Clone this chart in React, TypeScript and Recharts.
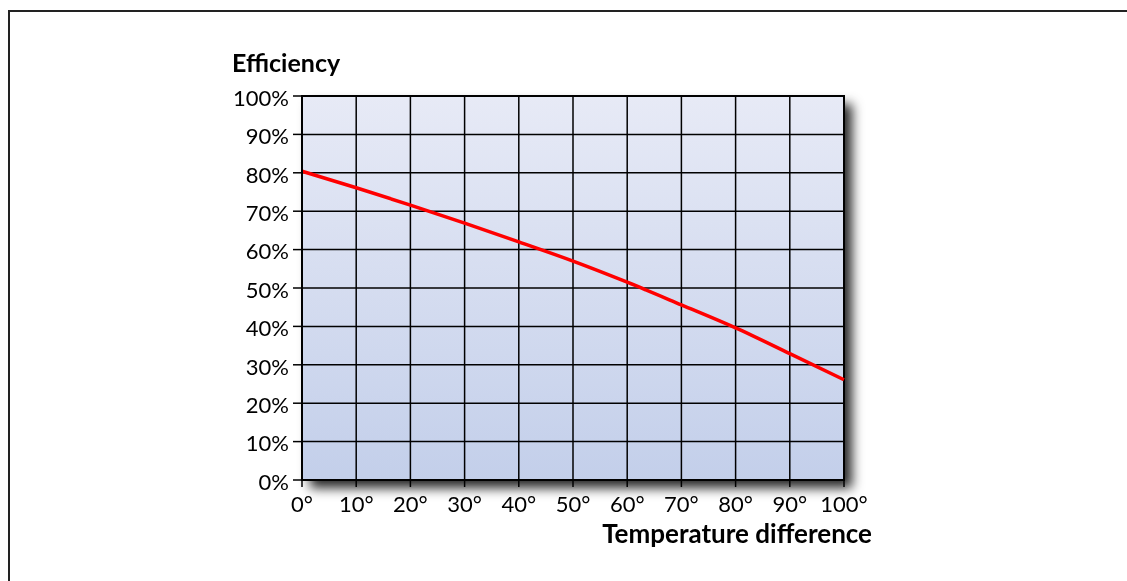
import React from 'react'
import { LineChart, Line, XAxis, YAxis, CartesianGrid, usePlotArea } from 'recharts'

const TEMPS = [0, 10, 20, 30, 40, 50, 60, 70, 80, 90, 100]
const EFFICIENCY = [80.4, 76.1, 71.6, 66.9, 62.0, 57.0, 51.5, 45.6, 39.6, 32.9, 26.1]
const X_TICKS = [0, 10, 20, 30, 40, 50, 60, 70, 80, 90, 100]
const Y_TICKS = [0, 10, 20, 30, 40, 50, 60, 70, 80, 90, 100]

const data = TEMPS.map((t, i) => ({ t, eff: EFFICIENCY[i] }))

const FONT = 'Lato, "Open Sans", sans-serif'

const css = `
.recharts-cartesian-grid-bg { filter: drop-shadow(8px 8px 6px rgba(0,0,0,0.85)); }
`

function Gradient() {
  return (
    <defs>
      <linearGradient id="bgGrad" x1="0" y1="0" x2="0" y2="1">
        <stop offset="0%" stopColor="#e7eaf6" />
        <stop offset="100%" stopColor="#c3cfea" />
      </linearGradient>
    </defs>
  )
}

function PlotFrame() {
  const area = usePlotArea()
  if (!area) return null
  const { x, y, width, height } = area
  return (
    <g>
      <rect x={x} y={y} width={width} height={height} fill="none" stroke="#000" strokeWidth={2} />
      <text x={x - 70} y={y - 24} fontFamily={FONT} fontWeight="bold" fontSize={25} fill="#000">
        Efficiency
      </text>
      <text x={x + width + 28} y={y + height + 63} textAnchor="end" fontFamily={FONT} fontWeight="bold" fontSize={26} fill="#000">
        Temperature difference
      </text>
    </g>
  )
}

export default function App() {
  return (
    <div style={{ position: 'relative', width: 1119, height: 565 }}>
      <style>{css}</style>
      <div
        style={{
          position: 'fixed',
          left: 8,
          top: 10,
          width: 1200,
          height: 700,
          borderTop: '2px solid #222',
          borderLeft: '2px solid #222',
          boxSizing: 'border-box',
        }}
      />
      <LineChart
        width={1119}
        height={565}
        data={data}
        margin={{ top: 88, right: 283, bottom: 63, left: 234 }}
        style={{ position: 'absolute', left: 0, top: 0 }}
      >
        <Gradient />
        <CartesianGrid stroke="#000" strokeWidth={1.5} fill="url(#bgGrad)" fillOpacity={1} />
        <XAxis
          dataKey="t"
          type="number"
          domain={[0, 100]}
          ticks={X_TICKS}
          tickFormatter={(v) => `${v}°`}
          axisLine={{ stroke: '#000', strokeWidth: 2 }}
          tickLine={{ stroke: '#000', strokeWidth: 1.5 }}
          tickSize={7}
          tickMargin={9}
          height={30}
          tick={{ fill: '#000', fontSize: 22, fontFamily: FONT }}
          interval={0}
        />
        <YAxis
          type="number"
          domain={[0, 100]}
          ticks={Y_TICKS}
          tickFormatter={(v) => `${v}%`}
          axisLine={{ stroke: '#000', strokeWidth: 2 }}
          tickLine={{ stroke: '#000', strokeWidth: 1.5 }}
          tickSize={9}
          tickMargin={4}
          width={60}
          tick={{ fill: '#000', fontSize: 22, fontFamily: FONT, dy: 2 }}
          interval={0}
        />
        <Line
          dataKey="eff"
          type="monotone"
          stroke="#ff0000"
          strokeWidth={3.5}
          dot={false}
          isAnimationActive={false}
        />
        <PlotFrame />
      </LineChart>
    </div>
  )
}
